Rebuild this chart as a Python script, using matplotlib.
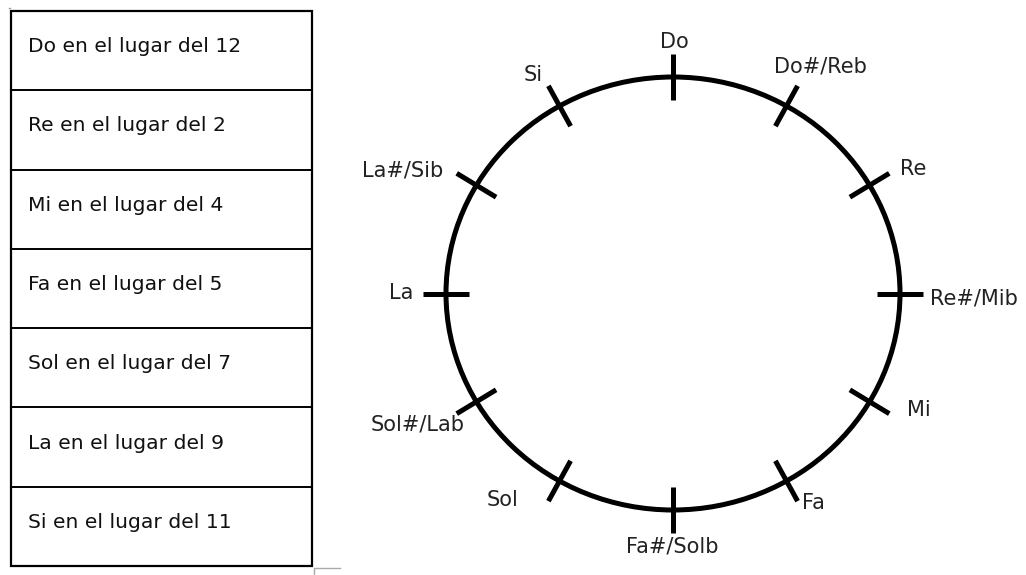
import numpy as np
import matplotlib
matplotlib.use("Agg")
import matplotlib.pyplot as plt
from matplotlib.patches import Ellipse, Rectangle

# ---------------- data ----------------
table_rows = [
    "Do en el lugar del 12",
    "Re en el lugar del 2",
    "Mi en el lugar del 4",
    "Fa en el lugar del 5",
    "Sol en el lugar del 7",
    "La en el lugar del 9",
    "Si en el lugar del 11",
]
notes = ["Do", "Do#/Reb", "Re", "Re#/Mib", "Mi", "Fa",
         "Fa#/Solb", "Sol", "Sol#/Lab", "La", "La#/Sib", "Si"]
clock_hours = [12, 1, 2, 3, 4, 5, 6, 7, 8, 9, 10, 11]

# ---------------- layout (pixels) ----------------
W, H = 1026, 575
fig = plt.figure(figsize=(W / 100, H / 100), dpi=100)
ax = fig.add_axes([0, 0, 1, 1])
ax.set_xlim(0, W)
ax.set_ylim(H, 0)
ax.axis("off")

# table
tx0, tx1, ty0, ty1 = 11, 312, 11, 566
row_h = (ty1 - ty0) / len(table_rows)
ax.add_patch(Rectangle((tx0, ty0), tx1 - tx0, ty1 - ty0, fill=False,
                       lw=1.6, ec="black"))
for i, txt in enumerate(table_rows):
    if i > 0:
        ax.plot([tx0, tx1], [ty0 + i * row_h] * 2, color="black", lw=1.4)
    ax.text(28, ty0 + i * row_h + row_h * 0.45, txt, ha="left", va="center",
            fontsize=14.6, family="DejaVu Sans", color="#111111")

# small gray marks
ax.plot([314, 314, 340], [575, 568, 568], color="#aaaaaa", lw=1)
ax.plot([9, 10], [8, 8], color="#999999", lw=1)

# circle (slightly elliptical)
cx, cy, a, b = 673, 293.5, 227, 216.5
ax.add_patch(Ellipse((cx, cy), 2 * a, 2 * b, fill=False, lw=3.6, ec="black"))

# label offsets relative to tick point (pixels)
label_off = {
    "Do": (1, -35), "Do#/Reb": (34, -40), "Re": (44, -16),
    "Re#/Mib": (74, 5), "Mi": (49, 8), "Fa": (27, 22),
    "Fa#/Solb": (-1, 36), "Sol": (-57, 19), "Sol#/Lab": (-59, 23),
    "La": (-45, -1), "La#/Sib": (-74, -15), "Si": (-26, -31),
}

tick_half = 23
for note, hour in zip(notes, clock_hours):
    th = np.deg2rad((hour % 12) * 30)
    px = cx + a * np.sin(th)
    py = cy - b * np.cos(th)
    # normal direction
    nx, ny = np.sin(th) / a, -np.cos(th) / b
    nn = np.hypot(nx, ny)
    nx, ny = nx / nn, ny / nn
    ax.plot([px - tick_half * nx, px + tick_half * nx],
            [py - tick_half * ny, py + tick_half * ny],
            color="black", lw=3.6, solid_capstyle="butt")
    dx, dy = label_off[note]
    ax.text(px + dx, py + dy, note, ha="center", va="center",
            fontsize=15, family="DejaVu Sans", color="#222222")

fig.savefig("out.png", dpi=100)
